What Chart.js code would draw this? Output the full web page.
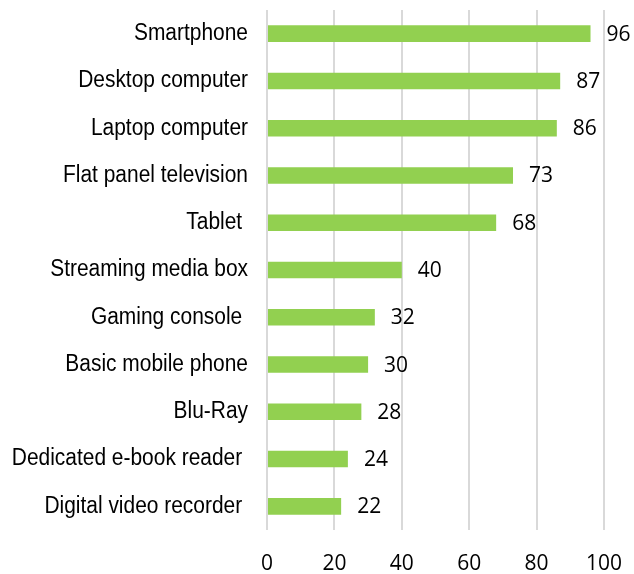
<!DOCTYPE html>
<html lang="en">
<head>
    <meta charset="UTF-8">
    <title>Device ownership</title>
    <script src="https://cdn.jsdelivr.net/npm/chart.js"></script>
    <style>
        body {
            margin: 0;
            padding: 0;
            background-color: #ffffff;
        }
        #chart-wrap {
            width: 634px;
            height: 574px;
        }
    </style>
</head>
<body>
    <div id="chart-wrap">
        <canvas id="deviceChart" width="634" height="574"></canvas>
    </div>

    <script>
        const devices = [
            'Smartphone',
            'Desktop computer',
            'Laptop computer',
            'Flat panel television',
            'Tablet ',
            'Streaming media box',
            'Gaming console ',
            'Basic mobile phone',
            'Blu-Ray',
            'Dedicated e-book reader ',
            'Digital video recorder '
        ];
        const ownership = [96, 87, 86, 73, 68, 40, 32, 30, 28, 24, 22];
        const xTicks = [0, 20, 40, 60, 80, 100];

        const numberFont = "'Open Sans', 'DejaVu Sans', sans-serif";
        const labelFont = "'Liberation Sans', Arial, sans-serif";

        // writes each bar's value just past its end
        const valueLabels = {
            id: 'valueLabels',
            afterDatasetsDraw(chart) {
                const ctx = chart.ctx;
                const meta = chart.getDatasetMeta(0);
                ctx.save();
                ctx.font = '21px ' + numberFont;
                ctx.fillStyle = '#000000';
                ctx.textAlign = 'left';
                ctx.textBaseline = 'middle';
                meta.data.forEach((bar, i) => {
                    ctx.fillText(String(ownership[i]), bar.x + 16, bar.y + 1);
                });
                ctx.restore();
            }
        };

        // category names, slightly condensed, right-aligned left of the plot
        const categoryLabels = {
            id: 'categoryLabels',
            afterDraw(chart) {
                const ctx = chart.ctx;
                const yScale = chart.scales.y;
                const right = chart.chartArea.left - 19;
                ctx.save();
                ctx.font = '23px ' + labelFont;
                ctx.fillStyle = '#000000';
                ctx.textAlign = 'right';
                ctx.textBaseline = 'middle';
                devices.forEach((name, i) => {
                    const y = yScale.getPixelForValue(i);
                    ctx.save();
                    ctx.translate(right, y);
                    ctx.scale(0.91, 1);
                    ctx.fillText(name, 0, 0);
                    ctx.restore();
                });
                ctx.restore();
            }
        };

        // keep the layout from reserving room for half tick labels
        function noEdgePadding(scale) {
            scale.paddingTop = 0;
            scale.paddingBottom = 0;
            scale.paddingLeft = 0;
            scale.paddingRight = 0;
        }

        const ctx = document.getElementById('deviceChart').getContext('2d');
        new Chart(ctx, {
            type: 'bar',
            data: {
                labels: devices,
                datasets: [{
                    data: ownership,
                    backgroundColor: '#92d050',
                    borderWidth: 0,
                    barPercentage: 0.35,
                    categoryPercentage: 1.0
                }]
            },
            options: {
                indexAxis: 'y',
                responsive: false,
                animation: false,
                layout: {
                    padding: { top: 10, right: 30, left: 0, bottom: 0 }
                },
                plugins: {
                    legend: { display: false },
                    tooltip: { enabled: false }
                },
                scales: {
                    x: {
                        min: 0,
                        max: 100,
                        afterBuildTicks(scale) {
                            scale.ticks = xTicks.map(v => ({ value: v }));
                        },
                        afterFit(scale) {
                            scale.height = 44;
                            noEdgePadding(scale);
                        },
                        grid: {
                            color: '#d9d9d9',
                            lineWidth: 2,
                            drawTicks: false
                        },
                        border: { display: false },
                        ticks: {
                            padding: 21,
                            color: '#000000',
                            font: { family: numberFont, size: 21 }
                        }
                    },
                    y: {
                        afterFit(scale) {
                            scale.width = 267;
                            noEdgePadding(scale);
                        },
                        grid: { display: false, drawTicks: false },
                        border: { display: false },
                        ticks: { display: false }
                    }
                }
            },
            plugins: [valueLabels, categoryLabels]
        });
    </script>
</body>
</html>
